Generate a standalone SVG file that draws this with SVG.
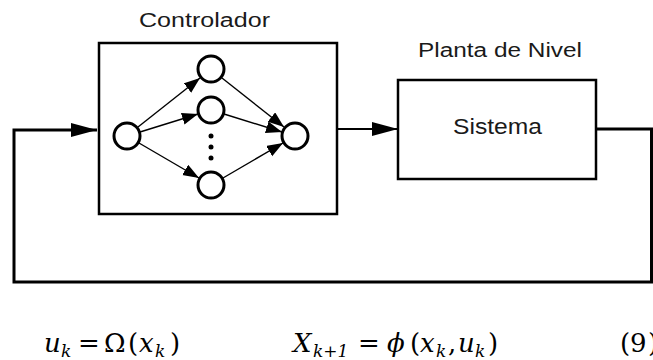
<svg xmlns="http://www.w3.org/2000/svg" width="653" height="360" viewBox="0 0 653 360">
<defs>
<style>
.box{fill:#fff;stroke:#000;stroke-width:2.5}
.neuron{fill:#fff;stroke:#000;stroke-width:3}
.lbl{font-family:"Liberation Sans",Arial,sans-serif;fill:#1a1a1a}
.syn{stroke:#000;stroke-width:1.4;fill:none}
.wire{stroke:#000;stroke-width:3;fill:none}
.math{font-family:"DejaVu Serif","Liberation Serif",serif;font-size:26px;fill:#000}
.it{font-style:italic}
.sub{font-size:17px;font-style:italic}
</style>
<marker id="small" markerUnits="userSpaceOnUse" markerWidth="17" markerHeight="13" refX="16" refY="6" orient="auto">
<path d="M0,0 L16,6 L0,12 z" fill="#000"/>
</marker>
<marker id="big" markerUnits="userSpaceOnUse" markerWidth="28" markerHeight="16" refX="26" refY="7" orient="auto">
<path d="M0,0 L26,7 L0,14 z" fill="#000"/>
</marker>
</defs>
<rect width="653" height="360" fill="#fff"/>

<g id="controlador">
<rect class="box" x="99" y="43" width="238" height="171"/>
<text class="lbl" x="204.5" y="27" font-size="20" text-anchor="middle" textLength="131" lengthAdjust="spacingAndGlyphs">Controlador</text>
<circle class="neuron" cx="127" cy="136" r="13"/>
<circle class="neuron" cx="211" cy="69" r="13"/>
<circle class="neuron" cx="211" cy="110" r="13"/>
<circle class="neuron" cx="211" cy="185" r="13"/>
<circle class="neuron" cx="295" cy="136" r="13"/>
<circle cx="211" cy="136" r="2.5" fill="#000"/>
<circle cx="211" cy="147" r="2.5" fill="#000"/>
<circle cx="211" cy="158" r="2.5" fill="#000"/>
</g>

<g id="planta">
<rect class="box" x="398" y="80" width="198" height="99"/>
<text class="lbl" x="500" y="57" font-size="20" text-anchor="middle" textLength="164" lengthAdjust="spacingAndGlyphs">Planta de Nivel</text>
<text class="lbl" x="497.5" y="134" font-size="22" text-anchor="middle" textLength="89" lengthAdjust="spacingAndGlyphs">Sistema</text>
</g>

<g id="connectors">
<line x1="338" y1="129" x2="398" y2="129" stroke="#000" stroke-width="2.2" marker-end="url(#big)"/>
<path class="wire" d="M596,129 H651.5 V282 H14 V130 H97" marker-end="url(#big)"/>
<line class="syn" x1="138" y1="127" x2="200" y2="78" marker-end="url(#small)"/>
<line class="syn" x1="140" y1="132" x2="198" y2="114" marker-end="url(#small)"/>
<line class="syn" x1="139" y1="143" x2="199" y2="178" marker-end="url(#small)"/>
<line class="syn" x1="222" y1="78" x2="284" y2="127" marker-end="url(#small)"/>
<line class="syn" x1="224" y1="114" x2="282" y2="132" marker-end="url(#small)"/>
<line class="syn" x1="223" y1="178" x2="283" y2="143" marker-end="url(#small)"/>
</g>

<g id="ecuaciones">
<text class="math" y="352"><tspan class="it" x="44">u</tspan><tspan class="sub" x="61" dy="5">k</tspan><tspan x="78" dy="-5">=</tspan><tspan x="104">Ω</tspan><tspan x="128">(</tspan><tspan class="it" x="139">x</tspan><tspan class="sub" x="155" dy="5">k</tspan><tspan x="170" dy="-5">)</tspan></text>
<text class="math" y="352"><tspan class="it" x="293">X</tspan><tspan class="sub" x="313" dy="5">k+1</tspan><tspan x="358" dy="-5">=</tspan><tspan class="it" x="387">ϕ</tspan><tspan x="410">(</tspan><tspan class="it" x="420">x</tspan><tspan class="sub" x="436" dy="5">k</tspan><tspan x="448" dy="-5">,</tspan><tspan class="it" x="458">u</tspan><tspan class="sub" x="475" dy="5">k</tspan><tspan x="488" dy="-5">)</tspan></text>
<text class="math" y="352"><tspan x="620">(</tspan><tspan x="630">9</tspan><tspan x="648">)</tspan></text>
</g>
</svg>
